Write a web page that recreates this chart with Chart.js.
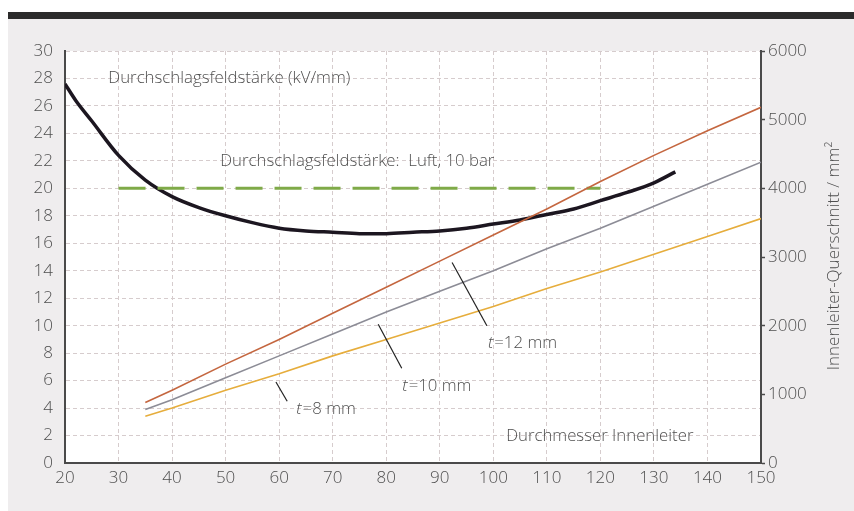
<!DOCTYPE html>
<html>
<head>
<meta charset="utf-8">
<script src="https://cdn.jsdelivr.net/npm/chart.js@4.4.1/dist/chart.umd.min.js"></script>
<style>
  html, body { margin: 0; padding: 0; background: #fff; }
  #frame {
    position: absolute; left: 8px; top: 12px; width: 846px; height: 499px;
    background: #efedee; border-top: 7px solid #2b2b2b; box-sizing: border-box;
  }
  #wrap { position: absolute; left: 0; top: 0; width: 854px; height: 511px; }
</style>
</head>
<body>
<div id="frame"></div>
<div id="wrap"><canvas id="chart" width="854" height="511"></canvas></div>
<script>
// Durchschlagsfeldstärke (kV/mm) over inner conductor diameter
const fieldX = [20, 22, 25, 30, 35, 40, 45, 50, 55, 60, 65, 70, 75, 80, 85, 90, 95, 100, 105, 110, 115, 120, 125, 130, 134];
const fieldY = [27.6, 26.4, 24.9, 22.4, 20.6, 19.4, 18.6, 18.0, 17.5, 17.1, 16.9, 16.8, 16.7, 16.7, 16.8, 16.9, 17.1, 17.4, 17.7, 18.1, 18.5, 19.1, 19.7, 20.4, 21.2];

// Luft, 10 bar
const airX = [30, 120];
const airY = [20, 20];

// cross section lines (left scale units, right scale = x200)
const lineX = [35, 40, 50, 60, 70, 80, 90, 100, 110, 120, 130, 140, 150];
const t12 = [4.4, 5.3, 7.2, 9.0, 10.9, 12.8, 14.7, 16.6, 18.5, 20.5, 22.4, 24.2, 25.9];
const t10 = [3.9, 4.6, 6.2, 7.8, 9.4, 11.0, 12.5, 14.0, 15.6, 17.1, 18.7, 20.3, 21.9];
const t8 = [3.4, 4.0, 5.3, 6.5, 7.8, 9.0, 10.2, 11.4, 12.7, 13.9, 15.2, 16.5, 17.8];

const xTicks = [20, 30, 40, 50, 60, 70, 80, 90, 100, 110, 120, 130, 140, 150];

const textColor = "#4f4f4f";
const fontFamily = "'Open Sans', sans-serif";
const noteFont = "300 16.8px " + fontFamily;

function pts(xs, ys) {
  return xs.map((x, i) => ({ x: x, y: ys[i] }));
}

const decoPlugin = {
  id: "deco",
  beforeDraw(chart) {
    const { ctx, chartArea: a } = chart;
    ctx.save();
    ctx.fillStyle = "#fff";
    ctx.fillRect(a.left, a.top, a.right - a.left, a.bottom - a.top);
    ctx.restore();
  },
  afterDatasetsDraw(chart) {
    const { ctx, scales } = chart;
    const sx = scales.x, sy = scales.y;
    const px = v => sx.getPixelForValue(v);
    const py = v => sy.getPixelForValue(v);

    // leader lines
    ctx.save();
    ctx.strokeStyle = "#222";
    ctx.lineWidth = 1.2;
    [[92.3, 14.6, 98.8, 10.0], [78.5, 10.1, 82.9, 6.9], [59.4, 5.9, 61.5, 4.5]].forEach(l => {
      ctx.beginPath();
      ctx.moveTo(px(l[0]), py(l[1]));
      ctx.lineTo(px(l[2]), py(l[3]));
      ctx.stroke();
    });

    ctx.fillStyle = textColor;
    ctx.textBaseline = "middle";
    ctx.font = noteFont;
    ctx.textAlign = "left";
    ctx.fillText("Durchschlagsfeldstärke (kV/mm)", px(28.1), py(28));
    ctx.fillText("Durchschlagsfeldstärke:  Luft, 10 bar", px(49.0), py(22));
    ctx.fillText("Durchmesser Innenleiter", px(102.4), py(1.95));

    // t = .. mm labels with italic t
    function tLabel(x, y, rest) {
      ctx.font = "italic " + noteFont;
      ctx.fillText("t", px(x), py(y));
      const w = ctx.measureText("t").width;
      ctx.font = noteFont;
      ctx.fillText(rest, px(x) + w + 1, py(y));
    }
    tLabel(99.0, 8.7, "=12 mm");
    tLabel(83.0, 5.6, "=10 mm");
    tLabel(63.2, 3.9, "=8 mm");

    // right axis title
    ctx.translate(834, 256);
    ctx.rotate(-Math.PI / 2);
    ctx.textAlign = "center";
    ctx.font = "300 17px " + fontFamily;
    ctx.fillText("Innenleiter-Querschnitt / mm²", 0, 0);
    ctx.restore();
  }
};

const tickFont = { family: fontFamily, size: 17, weight: "300" };

new Chart(document.getElementById("chart"), {
  type: "line",
  data: {
    datasets: [
      {
        label: "t=12 mm",
        data: pts(lineX, t12),
        borderColor: "#c4663f",
        borderWidth: 1.6,
        pointRadius: 0
      },
      {
        label: "t=10 mm",
        data: pts(lineX, t10),
        borderColor: "#8c8c96",
        borderWidth: 1.6,
        pointRadius: 0
      },
      {
        label: "t=8 mm",
        data: pts(lineX, t8),
        borderColor: "#e6ad3c",
        borderWidth: 1.6,
        pointRadius: 0
      },
      {
        label: "Luft, 10 bar",
        data: pts(airX, airY),
        borderColor: "#7faa48",
        borderWidth: 3,
        borderDash: [27, 12],
        pointRadius: 0
      },
      {
        label: "Durchschlagsfeldstärke",
        data: pts(fieldX, fieldY),
        borderColor: "#1c1620",
        borderWidth: 3.5,
        pointRadius: 0,
        cubicInterpolationMode: "monotone"
      }
    ]
  },
  options: {
    responsive: false,
    animation: false,
    layout: { padding: { top: 51, left: 0, right: 0, bottom: 0 } },
    plugins: { legend: { display: false }, tooltip: { enabled: false } },
    scales: {
      x: {
        type: "linear",
        min: 20,
        max: 150,
        afterBuildTicks: s => { s.ticks = xTicks.map(v => ({ value: v })); },
        afterFit: s => { s.height = 48; },
        grid: { color: "#d6cccd", lineWidth: 1, drawTicks: false },
        border: { color: "#4a4a4a", width: 2, dash: [4, 3] },
        ticks: { color: textColor, font: tickFont, padding: 5 }
      },
      y: {
        min: 0,
        max: 30,
        afterFit: s => { s.width = 65; },
        grid: { color: "#d6cccd", lineWidth: 1, drawTicks: false },
        border: { color: "#4a4a4a", width: 2, dash: [4, 3] },
        ticks: { stepSize: 2, color: textColor, font: tickFont, padding: 12 }
      },
      y2: {
        position: "right",
        min: 0,
        max: 6000,
        afterFit: s => { s.width = 93; },
        grid: { drawOnChartArea: false, drawTicks: true, tickLength: 4, tickColor: "#4a4a4a", tickWidth: 1.5 },
        border: { color: "#4a4a4a", width: 2 },
        ticks: { stepSize: 1000, color: textColor, font: tickFont, padding: 3, callback: v => String(v) }
      }
    }
  },
  plugins: [decoPlugin]
});
</script>
</body>
</html>
